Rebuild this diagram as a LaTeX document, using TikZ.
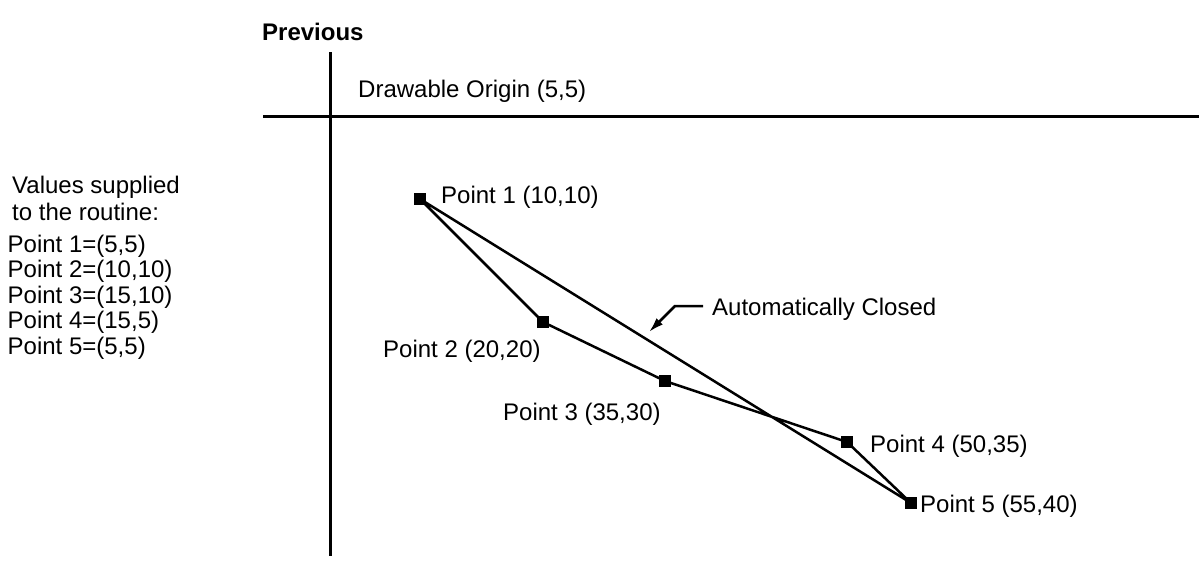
\documentclass[tikz,border=0pt]{standalone}
\usepackage{fontspec}
\setmainfont{Liberation Sans}
\usetikzlibrary{arrows.meta}
\begin{document}
\begin{tikzpicture}[x=1pt,y=-1pt,
  txt/.style={anchor=base west,inner sep=0pt,font=\fontsize{24}{26}\selectfont},
  bold/.style={txt,font=\fontsize{24}{26}\selectfont\bfseries},
  marker/.style={draw=none,fill=black,minimum size=12pt,inner sep=0pt,rectangle},
  axis/.style={line width=3pt},
  poly/.style={line width=2.5pt,line join=round},
  arr/.style={line width=2.5pt,-{Latex[length=15pt,width=9pt]}}]
\useasboundingbox (0,0) rectangle (1199,560);
% axes
\coordinate (vtop) at (330,52);
\coordinate (vbot) at (330,556);
\coordinate (hleft) at (263,116);
\coordinate (hright) at (1199,116);
\draw[axis] (vtop) -- (vbot);
\draw[axis] (hleft) -- (hright);
% titles
\node[bold] (prev) at (262,40) {Previous};
\node[txt] (origin) at (358,97) {Drawable Origin (5,5)};
% left text
\node[txt] (v1) at (12,193) {Values supplied};
\node[txt] (v2) at (12,220) {to the routine:};
\node[txt] (l1) at (7.5,252) {Point 1=(5,5)};
\node[txt] (l2) at (7.5,277.5) {Point 2=(10,10)};
\node[txt] (l3) at (7.5,303) {Point 3=(15,10)};
\node[txt] (l4) at (7.5,328.5) {Point 4=(15,5)};
\node[txt] (l5) at (7.5,354) {Point 5=(5,5)};
% markers
\node[marker] (p1) at (420,199) {};
\node[marker] (p2) at (543,322) {};
\node[marker] (p3) at (665,381) {};
\node[marker] (p4) at (847,442) {};
\node[marker] (p5) at (911,503) {};
% polygon
\draw[poly] (p1.center) -- (p2.center) -- (p3.center) -- (p4.center) -- (p5.center) -- cycle;
% point labels
\node[txt] (t1) at (441,203) {Point 1 (10,10)};
\node[txt] (t2) at (383,357) {Point 2 (20,20)};
\node[txt] (t3) at (503,420) {Point 3 (35,30)};
\node[txt] (t4) at (870,452) {Point 4 (50,35)};
\node[txt] (t5) at (920,512) {Point 5 (55,40)};
% automatically closed
\node[txt] (ac) at (712,315) {Automatically Closed};
\coordinate (aStart) at (703,306);
\coordinate (aBend) at (675,306);
\coordinate (aTip) at (649,332);
\draw[arr] (aStart) -- (aBend) -- (aTip);
\end{tikzpicture}
\end{document}
